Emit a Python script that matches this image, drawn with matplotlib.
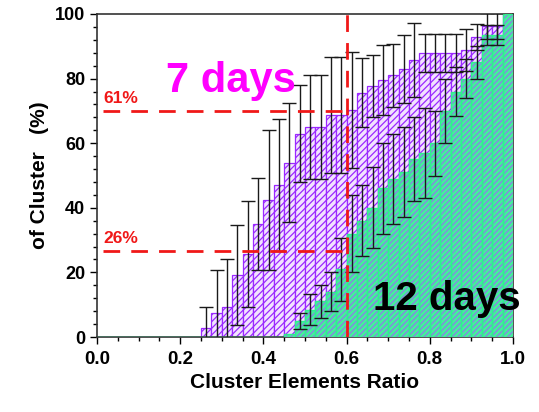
import matplotlib
matplotlib.use("Agg")
import matplotlib.pyplot as plt
import numpy as np
from matplotlib.ticker import AutoMinorLocator

plt.rcParams['font.family'] = ['Liberation Sans', 'DejaVu Sans']
plt.rcParams['font.weight'] = 'bold'
plt.rcParams['hatch.linewidth'] = 0.9

# ---- data ----
bin_width = 0.025
bin_left = np.round(np.arange(0, 1.0, bin_width), 4)   # 40 bins from 0.0 to 0.975

days7 = [0]*10 + [2.8, 7.4, 9.3, 19.2, 25.7, 35, 42.4, 47, 54, 63,
                  65, 65, 68.7, 68.7, 70.3, 75.6, 77.7, 79.6, 81, 83,
                  85.8, 87.9, 87.9, 87.9, 87.9, 89, 93, 96.3, 96.3, 100]
days7_err = [0]*10 + [6.5, 13.3, 14.8, 15.6, 16.4, 14.3, 21.7, 20.5, 18.5, 15,
                      16, 16, 18, 18, 18, 10.7, 9.5, 10.8, 9.7, 10.5,
                      11.5, 6, 6, 6, 6, 6.5, 4, 4, 4, 0]

days12 = [0]*18 + [1, 5, 8.5, 11, 14, 21, 32, 36, 40, 46, 49, 51,
                   55, 57, 60, 70, 76, 80, 85, 93.5, 93.5, 100]
days12_err = [0]*18 + [0, 2.5, 4.8, 5.2, 6, 9.7, 12, 11, 12.5, 14, 14, 14,
                       13, 14, 10, 10, 7.5, 6, 5, 3, 3, 0]

xticks = [0.0, 0.2, 0.4, 0.6, 0.8, 1.0]
xtick_labels = ['0.0', '0.2', '0.4', '0.6', '0.8', '1.0']
yticks = [0, 20, 40, 60, 80, 100]

ref_x = 0.6
ref_high, ref_high_label = 70, '61%'
ref_low, ref_low_label = 26.5, '26%'

# ---- figure ----
fig = plt.figure(figsize=(5.39, 4.12), dpi=100)
ax = fig.add_axes([97/539, 1-337/412, 416/539, 323/412])

purple = '#9B28FF'
green = '#2EF08E'

# 7 days bars
ax.bar(bin_left, days7, width=bin_width, align='edge', facecolor='#F2E2FF',
       edgecolor=purple, hatch='/////', linewidth=0.9, zorder=2)
# 12 days bars (hatch layer + outline layer)
ax.bar(bin_left, days12, width=bin_width, align='edge', facecolor='#45EE9C',
       edgecolor='#8C7FE6', hatch='//////', linewidth=0, zorder=3)
ax.bar(bin_left, days12, width=bin_width, align='edge', fill=False,
       edgecolor=green, linewidth=1.0, zorder=3.5)

centers = bin_left + bin_width/2
d7 = np.array(days7); e7 = np.array(days7_err)
d12 = np.array(days12); e12 = np.array(days12_err)
m7 = e7 > 0
m12 = e12 > 0
ax.errorbar(centers[m7], d7[m7], yerr=e7[m7], fmt='none', ecolor='#1a1a1a',
            elinewidth=1.0, capsize=5, capthick=1.0, zorder=5)
ax.errorbar(centers[m12], d12[m12], yerr=e12[m12], fmt='none', ecolor='#1a1a1a',
            elinewidth=1.0, capsize=5, capthick=1.0, zorder=5)

# reference lines
red = '#F01818'
ax.plot([0.015, ref_x], [ref_high, ref_high], color=red, lw=2, dashes=(6, 4), zorder=6)
ax.plot([0.015, ref_x], [ref_low, ref_low], color=red, lw=2, dashes=(6, 4), zorder=6)
ax.plot([ref_x, ref_x], [0, 100], color=red, lw=2, dashes=(6, 4), zorder=6)

ax.text(0.0144, 72.4, ref_high_label, color=red, fontsize=12.5, fontweight='bold',
        ha='left', va='baseline', zorder=7)
ax.text(0.0144, 29.1, ref_low_label, color=red, fontsize=12.5, fontweight='bold',
        ha='left', va='baseline', zorder=7)

ax.text(0.322, 75.9, '7 days', color='#FF00FF', fontsize=30, fontweight='bold',
        ha='center', va='baseline', zorder=8)
ax.text(0.663, 8.4, '12 days', color='black', fontsize=29, fontweight='bold',
        ha='left', va='baseline', zorder=8, clip_on=False)

ax.set_xlim(0, 1)
ax.set_ylim(0, 100)
ax.set_xticks(xticks)
ax.set_xticklabels(xtick_labels)
ax.set_yticks(yticks)
ax.xaxis.set_minor_locator(AutoMinorLocator(4))
ax.yaxis.set_minor_locator(AutoMinorLocator(5))
ax.tick_params(axis='x', which='major', direction='out', length=5, width=1,
               labelsize=13.5, pad=5)
ax.tick_params(axis='y', which='major', direction='out', length=5, width=1,
               labelsize=13)
ax.tick_params(axis='both', which='minor', direction='out', length=3, width=1)
for lab in ax.get_xticklabels() + ax.get_yticklabels():
    lab.set_fontweight('bold')
for s in ax.spines.values():
    s.set_linewidth(1.2)
    s.set_color('#333333')

ax.set_xlabel('Cluster Elements Ratio', fontsize=15, fontweight='bold', labelpad=4)
ax.set_ylabel('of Cluster   (%)', fontsize=15, fontweight='bold', labelpad=4)

fig.savefig('out.png', dpi=100)
